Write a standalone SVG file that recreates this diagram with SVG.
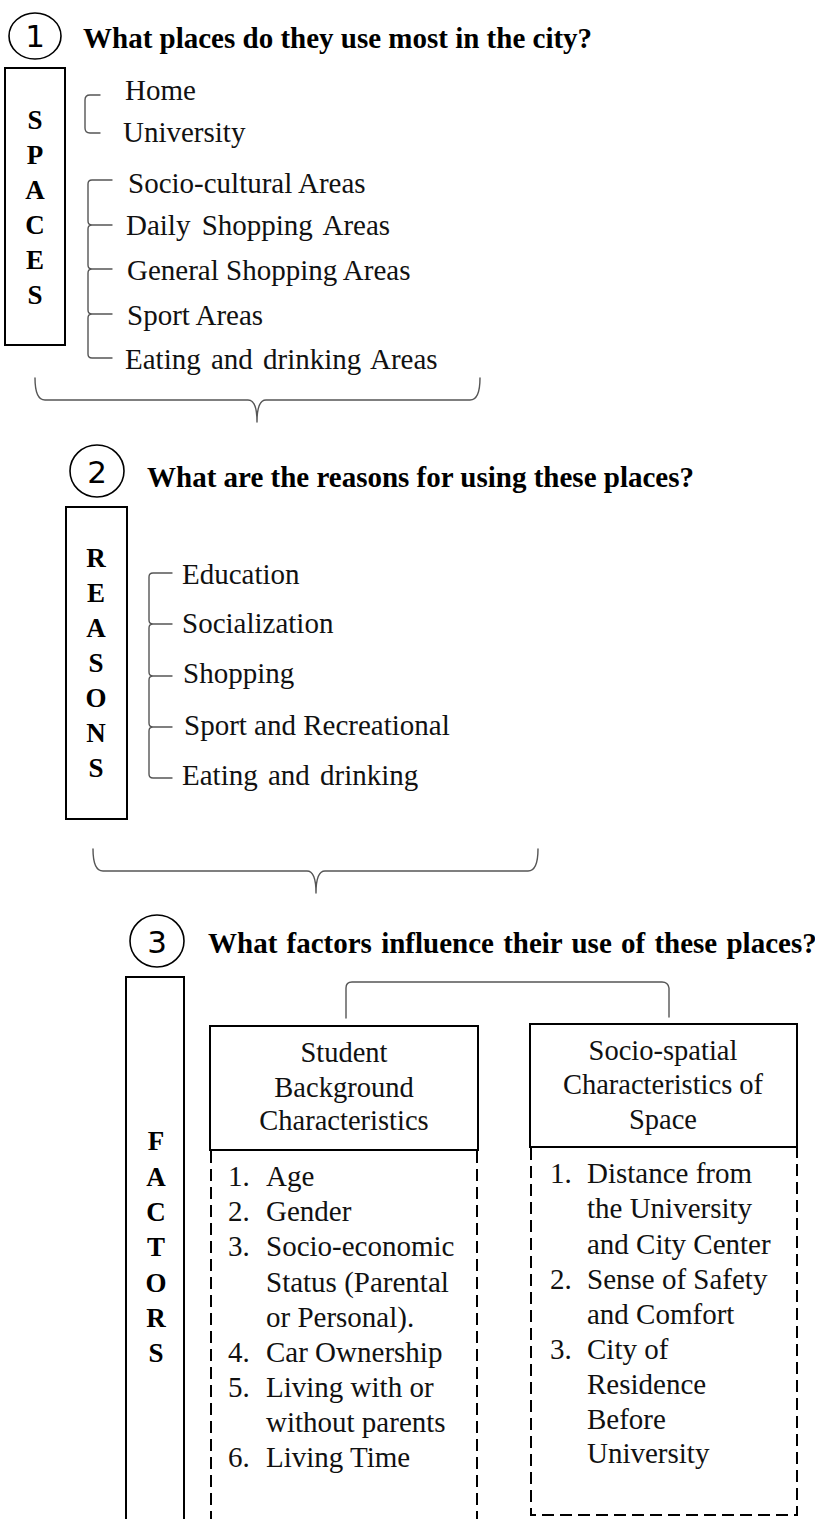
<svg xmlns="http://www.w3.org/2000/svg" width="815" height="1519" viewBox="0 0 815 1519">
  <style>
    .bg { fill: #ffffff; }
    .box { fill: none; stroke: #000; stroke-width: 2; }
    .dash { fill: none; stroke: #000; stroke-width: 2; stroke-dasharray: 12 6; }
    .ring { fill: none; stroke: #000; stroke-width: 1.6; }
    .brk { fill: none; stroke: #555; stroke-width: 1.4; stroke-linejoin: round; stroke-linecap: round; }
    .num { font-family: "DejaVu Sans", "Liberation Sans", sans-serif; font-size: 31px; fill: #000; text-anchor: middle; }
    .title { font-family: "Liberation Serif", "Times New Roman", Tinos, serif; font-size: 29px; font-weight: 700; fill: #000; }
    .vert { font-family: "Liberation Serif", "Times New Roman", Tinos, serif; font-size: 27px; font-weight: 700; fill: #000; text-anchor: middle; }
    .item { font-family: "Times New Roman", "Liberation Serif", Tinos, "Nimbus Roman", serif; font-size: 29px; font-weight: 400; font-style: normal; fill: #111; }
    .head { font-family: "Times New Roman", "Liberation Serif", Tinos, "Nimbus Roman", serif; font-size: 28.5px; font-weight: 400; fill: #111; text-anchor: middle; }
  </style>

  <rect class="bg" x="0" y="0" width="815" height="1519"/>

  <!-- Step 1: spaces -->
  <g id="step1-title">
    <ellipse class="ring" cx="35" cy="36" rx="26" ry="23"/>
    <text class="num" x="35" y="47">1</text>
    <text class="title" x="83" y="48">What places do they use most in the city?</text>
  </g>
  <g id="spaces-box">
    <rect class="box" x="5" y="68" width="60" height="277"/>
    <text class="vert" x="35" y="129">S</text>
    <text class="vert" x="35" y="164">P</text>
    <text class="vert" x="35" y="199">A</text>
    <text class="vert" x="35" y="234">C</text>
    <text class="vert" x="35" y="269">E</text>
    <text class="vert" x="35" y="304">S</text>
  </g>
  <g id="spaces-list">
    <text class="item" x="125" y="100">Home</text>
    <text class="item" x="123" y="142">University</text>
    <text class="item" x="128" y="193">Socio-cultural Areas</text>
    <text class="item" x="126" y="235" word-spacing="4">Daily Shopping Areas</text>
    <text class="item" x="127" y="280">General Shopping Areas</text>
    <text class="item" x="127" y="325">Sport Areas</text>
    <text class="item" x="125" y="369" word-spacing="3">Eating and drinking Areas</text>
  </g>

  <!-- Step 2: reasons -->
  <g id="step2-title">
    <ellipse class="ring" cx="97" cy="471" rx="27" ry="26"/>
    <text class="num" x="97" y="483">2</text>
    <text class="title" x="147" y="487">What are the reasons for using these places?</text>
  </g>
  <g id="reasons-box">
    <rect class="box" x="66" y="507" width="61" height="312"/>
    <text class="vert" x="96" y="567">R</text>
    <text class="vert" x="96" y="602">E</text>
    <text class="vert" x="96" y="637">A</text>
    <text class="vert" x="96" y="672">S</text>
    <text class="vert" x="96" y="707">O</text>
    <text class="vert" x="96" y="742">N</text>
    <text class="vert" x="96" y="777">S</text>
  </g>
  <g id="reasons-list">
    <text class="item" x="182" y="584">Education</text>
    <text class="item" x="182" y="633">Socialization</text>
    <text class="item" x="183" y="683">Shopping</text>
    <text class="item" x="184" y="735">Sport and Recreational</text>
    <text class="item" x="182" y="785" word-spacing="3">Eating and drinking</text>
  </g>

  <!-- Step 3: factors -->
  <g id="step3-title">
    <ellipse class="ring" cx="157" cy="941" rx="27" ry="26"/>
    <text class="num" x="157" y="953">3</text>
    <text class="title" x="208" y="953" word-spacing="2">What factors influence their use of these places?</text>
  </g>
  <g id="factors-box">
    <path class="box" d="M126,1519 V977 H184 V1519"/>
    <text class="vert" x="156" y="1150">F</text>
    <text class="vert" x="156" y="1186">A</text>
    <text class="vert" x="156" y="1221">C</text>
    <text class="vert" x="156" y="1256">T</text>
    <text class="vert" x="156" y="1292">O</text>
    <text class="vert" x="156" y="1327">R</text>
    <text class="vert" x="156" y="1362">S</text>
  </g>
  <g id="student-background">
    <rect class="box" x="210" y="1026" width="268" height="124"/>
    <text class="head" x="344" y="1062">Student</text>
    <text class="head" x="344" y="1097">Background</text>
    <text class="head" x="344" y="1130">Characteristics</text>
    <path class="dash" d="M211,1151 V1519 M477,1151 V1519"/>
    <g class="item">
      <text x="228" y="1186">1.</text><text x="266" y="1186">Age</text>
      <text x="228" y="1221">2.</text><text x="266" y="1221">Gender</text>
      <text x="228" y="1256">3.</text><text x="266" y="1256">Socio-economic</text>
      <text x="266" y="1292">Status (Parental</text>
      <text x="266" y="1327">or Personal).</text>
      <text x="228" y="1362">4.</text><text x="266" y="1362">Car Ownership</text>
      <text x="228" y="1397">5.</text><text x="266" y="1397">Living with or</text>
      <text x="266" y="1432">without parents</text>
      <text x="228" y="1467">6.</text><text x="266" y="1467">Living Time</text>
    </g>
  </g>
  <g id="socio-spatial">
    <rect class="box" x="530" y="1024" width="267" height="123"/>
    <text class="head" x="663" y="1060">Socio-spatial</text>
    <text class="head" x="663" y="1094">Characteristics of</text>
    <text class="head" x="663" y="1129">Space</text>
    <path class="dash" d="M531,1148 V1515 H797 V1148"/>
    <g class="item">
      <text x="550" y="1183">1.</text><text x="587" y="1183">Distance from</text>
      <text x="587" y="1218">the University</text>
      <text x="587" y="1254">and City Center</text>
      <text x="550" y="1289">2.</text><text x="587" y="1289">Sense of Safety</text>
      <text x="587" y="1324">and Comfort</text>
      <text x="550" y="1359">3.</text><text x="587" y="1359">City of</text>
      <text x="587" y="1394">Residence</text>
      <text x="587" y="1429">Before</text>
      <text x="587" y="1463">University</text>
    </g>
  </g>

  <!-- brackets and braces linking the items -->
  <g id="connectors">
    <path class="brk" d="M100,95 H90 Q85,95 85,100 V128 Q85,133 90,133 H100"/>
    <path class="brk" d="M112,180 H92 Q88,180 88,184 V221 Q88,225 92,225 H112 M92,225 Q88,225 88,229 V265 Q88,269 92,269 H112 M92,269 Q88,269 88,273 V310 Q88,314 92,314 H112 M92,314 Q88,314 88,318 V354 Q88,358 92,358 H112"/>
    <path class="brk" d="M35,378 Q35,400 45,400 H248 Q257,400 257,422 Q257,400 266,400 H470 Q480,400 480,378"/>
    <path class="brk" d="M172,573 H153 Q149,573 149,577 V620 Q149,624 153,624 H172 M153,624 Q149,624 149,628 V672 Q149,676 153,676 H172 M153,676 Q149,676 149,680 V723 Q149,727 153,727 H172 M153,727 Q149,727 149,731 V774 Q149,778 153,778 H172"/>
    <path class="brk" d="M93,849 Q93,871 103,871 H307 Q316,871 316,893 Q316,871 325,871 H528 Q538,871 538,849"/>
    <path class="brk" d="M346,1018 V988 Q346,982 352,982 H662 Q668,982 669,988 V1017"/>
  </g>
</svg>
